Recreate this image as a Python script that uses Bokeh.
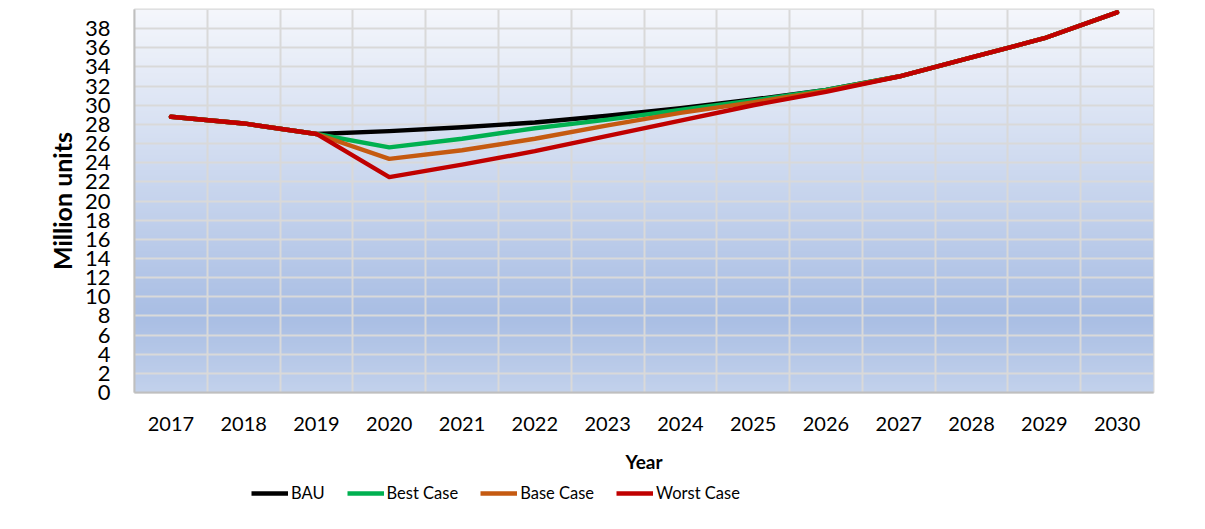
import numpy as np
from bokeh.plotting import figure
from bokeh.layouts import column
from bokeh.models import Range1d, FixedTicker, Legend, LegendItem
from bokeh.embed import file_html
from bokeh.resources import INLINE

years = [2017, 2018, 2019, 2020, 2021, 2022, 2023, 2024, 2025, 2026, 2027, 2028, 2029, 2030]
bau = [28.8, 28.1, 27.0, 27.3, 27.7, 28.2, 28.9, 29.7, 30.6, 31.6, 33.0, 35.0, 37.0, 39.7]
best_case = [28.8, 28.1, 27.0, 25.6, 26.5, 27.6, 28.5, 29.5, 30.5, 31.6, 33.0, 35.0, 37.0, 39.7]
base_case = [28.8, 28.1, 27.0, 24.4, 25.3, 26.5, 27.9, 29.2, 30.3, 31.5, 33.0, 35.0, 37.0, 39.7]
worst_case = [28.8, 28.1, 27.0, 22.5, 23.8, 25.2, 26.8, 28.4, 30.0, 31.4, 33.0, 35.0, 37.0, 39.7]
y_ticks = list(range(0, 40, 2))
series_names = ["BAU", "Best Case", "Base Case", "Worst Case"]
series_colors = ["#000000", "#00B050", "#C55A11", "#C00000"]

FONT = "Lato"

x_lo, x_hi = years[0] - 0.5, years[-1] + 0.5
y_lo, y_hi = 0, 40

p = figure(width=1200, height=480, output_backend="svg", toolbar_location=None,
           x_range=Range1d(x_lo, x_hi), y_range=Range1d(y_lo, y_hi),
           min_border_left=134, min_border_right=47, min_border_top=9, min_border_bottom=88)
p.background_fill_color = "white"
p.border_fill_color = "white"
p.outline_line_color = "#D9D9D9"
p.outline_line_width = 2

# gradient background (style only), drawn as an image under the grid
stops_v = [0.0, 8.0, 40.0]
stops_c = [(195, 210, 236), (169, 190, 228), (245, 247, 252)]
n_rows = 400
row_v = (np.arange(n_rows) + 0.5) / n_rows * (y_hi - y_lo) + y_lo
img = np.empty((n_rows, 1), dtype=np.uint32)
view = img.view(dtype=np.uint8).reshape((n_rows, 1, 4))
for k in range(3):
    view[:, 0, k] = np.interp(row_v, stops_v, [c[k] for c in stops_c]).astype(np.uint8)
view[:, 0, 3] = 255
bg = p.image_rgba(image=[img], x=x_lo, y=y_lo, dw=x_hi - x_lo, dh=y_hi - y_lo)
bg.level = "image"

# grids
p.xgrid.ticker = FixedTicker(ticks=[y + 0.5 for y in years[:-1]])
p.ygrid.ticker = FixedTicker(ticks=y_ticks[1:])
for g in (p.xgrid, p.ygrid):
    g.grid_line_color = "#D9D9D9"
    g.grid_line_width = 2

for vals, col in zip([bau, best_case, base_case, worst_case], series_colors):
    p.line(years, vals, line_color=col, line_width=4.4, line_join="round", line_cap="round")

# axes
p.xaxis.ticker = FixedTicker(ticks=years)
p.yaxis.ticker = FixedTicker(ticks=y_ticks)
for ax in (p.xaxis, p.yaxis):
    ax.axis_line_color = "#BFBFBF"
    ax.axis_line_width = 2
    ax.major_tick_line_color = None
    ax.minor_tick_line_color = None
    ax.major_tick_in = 0
    ax.major_tick_out = 0
    ax.major_label_text_font = FONT
    ax.major_label_text_color = "#000000"
    ax.axis_label_text_font = FONT
    ax.axis_label_text_font_style = "bold"
    ax.axis_label_text_color = "#000000"
p.xaxis.major_label_text_font_size = "20px"
p.yaxis.major_label_text_font_size = "22px"
p.xaxis.axis_label = "Year"
p.yaxis.axis_label = "Million units"
p.xaxis.axis_label_text_font_size = "19px"
p.yaxis.axis_label_text_font_size = "25px"
p.xaxis.major_label_standoff = 24
p.xaxis.axis_label_standoff = 16
p.yaxis.major_label_standoff = 24
p.yaxis.axis_label_standoff = 5

# legend strip below the chart (dummy NaN renderers only carry the legend styles)
leg = figure(width=1200, height=45, output_backend="svg", toolbar_location=None,
             x_range=Range1d(0, 1), y_range=Range1d(0, 1),
             min_border_left=0, min_border_right=0, min_border_top=0, min_border_bottom=0)
leg.axis.visible = False
leg.grid.visible = False
leg.outline_line_color = None
leg.background_fill_color = "white"
leg.border_fill_color = "white"
leg_renderers = []
for col in series_colors:
    leg_renderers.append(leg.line(x=[np.nan], y=[np.nan], line_color=col, line_width=4.4))

legend = Legend(items=[LegendItem(label=n, renderers=[r]) for n, r in zip(series_names, leg_renderers)],
                orientation="horizontal", location=(117, 22),
                glyph_width=37, glyph_height=20, label_standoff=3, spacing=22,
                padding=0, margin=0, border_line_color=None, background_fill_alpha=0,
                label_text_font=FONT, label_text_font_size="16.5px", label_text_color="#000000")
leg.add_layout(legend, "center")

layout = column(p, leg, spacing=0)
open("out.html", "w").write(file_html(layout, INLINE))
